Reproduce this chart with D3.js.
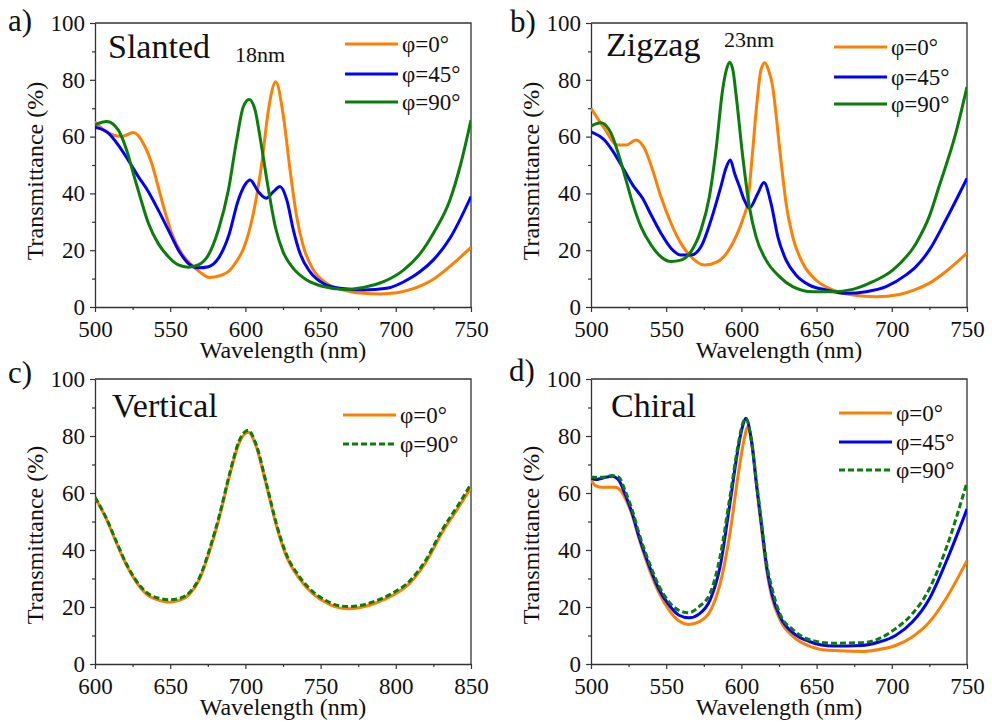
<!DOCTYPE html>
<html><head><meta charset="utf-8">
<script src="https://cdn.jsdelivr.net/npm/d3@7"></script>
<style>
body{margin:0;background:#fff}
svg{display:block}
svg text{font-family:"Liberation Serif", serif;}
</style>
</head><body>
<svg id="chart" width="992" height="724"></svg>
<script>
// ---------- DATA ----------
const xTicksA = [500, 550, 600, 650, 700, 750];
const xTicksC = [600, 650, 700, 750, 800, 850];
const yTicks = [0, 20, 40, 60, 80, 100];
const legend3 = ["φ=0°", "φ=45°", "φ=90°"];
const legend2 = ["φ=0°", "φ=90°"];

// (a) Slanted
const slantedWl0 = [500,508.9,517.7,525.5,533.2,537.7,542,546.5,551,557.6,564.3,570,576,583,589.8,594,598.7,605.3,610.9,615.3,620.2,625.3,629.7,634.1,638.6,645.2,654.1,665.2,678.5,690,700.6,710,718,725,736,750];
const slantedT0  = [65.2,61.2,60,61.4,56.5,50.6,42.4,33.6,26,18.9,14.8,12.2,10.4,11,13,16,20.5,33,50.6,69.4,79.3,67,48.2,31.8,21.2,13,8.3,6,4.8,4.6,5,6.2,7.8,9.8,14.3,21];
const slantedWl45 = [500,508.9,515.5,522,528.8,535.5,542,548.8,555.4,562,568.7,575.4,582,588.7,595.3,599.7,603.1,608.6,613.7,618.6,623,627.5,631.9,636.3,643,651.9,663,678.5,694,709.5,716,725,736,750];
const slantedT45  = [63.3,61.2,57,51.8,45.9,40.6,34.2,27.1,20.1,15.4,13.8,14.2,17.1,24.8,37.7,43,44.7,40.6,38.3,40.6,42.4,37.7,27.1,18.9,12.4,8.3,6.6,6,6.6,10.1,12.4,16.6,24.2,38.9];
const slantedWl90 = [500,507.8,515.5,521,525.5,530,535.5,542,548.8,555.4,562,568.7,575.4,582,588.7,594.2,598.6,602.5,606.4,610,614.5,620,625,632,640.8,651.9,665.2,678.5,691.8,705.1,716.3,725,736,743,750];
const slantedT90  = [64.1,65.3,62.3,55.3,47,38.8,29.5,22.4,17.7,14.8,14,14.8,18.3,27.1,41.2,58.8,70.5,73.1,69.4,59,44,28,19.5,13.5,9.5,7.2,6.2,6.9,8.9,13,18.9,26,37.7,50,65.8];

// (b) Zigzag
const zigzagWl0 = [500,508.9,517.7,523.3,529.9,535.5,541,546.5,553.2,559.8,566.5,575.4,584.2,590.9,597,601,604.5,607,610,613,615.6,618,620.8,623,625.3,627.5,629.7,634.1,640.8,649.6,660.7,674,689.5,705,716,725,736,750];
const zigzagT0  = [70,62.9,57,57,58.8,55.9,48.2,38.8,29.5,22.4,17.7,14.8,16,19.5,25.5,31,38,52,70,83.5,86,83.5,77.6,68,56.4,46,36.5,24.8,15.4,9.5,6,4.2,3.6,4.4,6.2,8.4,12.5,19];
const zigzagWl45 = [500,508.9,515.5,522,527.7,534.3,540,546.5,553.2,559.8,566.5,573.1,579.8,586.4,589.8,592.6,595.5,598.7,601.9,605.3,610.9,615,619.7,624.2,629.7,636.3,645.2,656.3,669.6,682.9,696.2,709.5,716.1,725,736,750];
const zigzagT45  = [61.7,58.8,54.1,48.2,43,38.3,32.4,26,20.7,18.3,18.3,21.2,30.6,42.5,49,51.8,47,42.4,37.7,34.8,40,43.8,36.5,24.8,16.5,11.3,7.7,6,4.8,5.4,7.2,11.3,14.2,20.1,30.7,45.3];
const zigzagWl90 = [500,506.6,513.3,518.8,523.3,527.7,533.2,540,546.5,553.2,559.8,566.5,573.1,578.7,583.1,587.5,590,592.2,594.5,596.4,600.9,605.3,609.7,616.4,625.3,634.1,647.4,660.7,674,687.3,700.6,716.1,725,731.4,742.5,750];
const zigzagT90  = [63.7,64.9,61.2,52.9,44.7,36.5,28.3,21.8,17.7,16,16.5,19.5,27.1,38.8,55.3,76.4,83.5,86.2,83,75,52.9,35.3,24.8,16.5,10.7,7.2,5.4,5.4,6.2,8.9,13,22.4,32,42.4,61.1,77.5];

// (c) Vertical
const verticalWl = [600,607.5,614,621,627.5,634,643,649.6,656,663,669.6,676,683,689.5,696,702,707,714,720.6,727,736,745,753.8,762.6,769,778,787,798,809,820,831,842.5,850];
const verticalT0  = [58.5,50.9,42.8,34.6,28.7,24.6,22.3,21.7,22.3,24.6,29.9,39.3,52.1,66.1,77.8,81.3,76.6,62.6,48.6,38.1,29.9,24.6,21.5,19.7,19.4,20,21.5,24.1,28.2,35.7,46.3,55.6,62];
const verticalT90 = [58.5,51.2,43.2,35,29.2,25.2,23,22.5,23,25.2,30.5,40,52.8,66.8,78.5,82,77.2,63.2,49.2,38.8,30.6,25.3,22.2,20.4,20.2,20.7,22.2,24.9,29,36.5,47.2,56.6,63.2];

// (d) Chiral
const chiralWl0 = [500,503,507.5,516.4,519.7,523,527.5,532,538.6,545,552,558.5,565,572.5,579.2,585.8,592.4,598,601.5,604.4,607,610.2,613.5,616.8,620.2,625.7,634.6,645.6,658,680,691.5,702.5,713.6,725,736,750];
const chiralT0  = [64.4,62.6,62,62,60.9,57.9,52.1,43.9,33.4,25.2,18.8,15.1,13.9,15,18.5,28,45.9,66.9,78,83.3,78,62,47,33,23.5,15.5,9.5,6.2,4.8,4.4,5.1,6.5,9.5,14.7,22.9,36.3];
const chiralWl45 = [500,503,507.5,514,518.6,523,527.5,532,538.6,545,552,558.5,565,572,579.2,585.8,592.4,598,600.6,602.9,606.9,610.2,613.5,616.8,620.2,625.7,634.6,645.6,661,680,691.5,702.5,713.6,725,736,750];
const chiralT45  = [65.5,64.7,65.2,65.9,64.4,59.1,52.7,44.5,34.6,26.4,20.6,17.1,16.2,17.6,22.5,34.1,56.4,76.2,83,86.2,77.4,62.2,48.2,34.1,24.8,16.6,10.8,7.8,6.3,6.5,7.7,10,14.7,22.9,35.7,54.4];
const chiralWl90 = [500,507.5,514,518.6,523,527.5,532,538.6,545,552,558.5,565,572,579.2,585.8,592.4,598,600.6,603,606.9,610.2,613.5,616.8,620.6,625.7,634.6,645.6,661,680,691.5,702.5,713.6,725,736,750];
const chiralT90  = [65.5,65.5,66.1,65.5,60.3,53.9,45.7,35.7,27.6,21.7,18.8,18,20.2,24.8,37.6,58.7,77.4,84,86.2,77.4,63.4,49,35.3,26,17.5,11.9,8.5,7.3,7.5,8.9,12.4,17.6,26.4,40.4,63.8];

// ---------- STYLE / LAYOUT ----------
const C_OR = "#ff8000", C_BL = "#0000ff", C_GR = "#0a7d0a";
const FONT = "Liberation Serif";
const zip = (xs, ys) => xs.map((x, i) => ({x, y: ys[i]}));

const panels = [
  {L:95, R:471, T:23, B:307, dom:[500,750], xt:xTicksA, tag:"a)", tagX:8, tagY:31,
   title:"Slanted", tX:108, tY:58, sub:"18nm", sX:235, sY:62,
   legX:345, legY:[44,74,102], labels:legend3, ytY:171,
   series:[{d:zip(slantedWl0,slantedT0),c:C_OR},{d:zip(slantedWl45,slantedT45),c:C_BL},{d:zip(slantedWl90,slantedT90),c:C_GR}],
   leg:[{c:C_OR},{c:C_BL},{c:C_GR}]},
  {L:591, R:967, T:23, B:307, dom:[500,750], xt:xTicksA, tag:"b)", tagX:510, tagY:32,
   title:"Zigzag", tX:606, tY:56, sub:"23nm", sX:724, sY:47,
   legX:834, legY:[47,77,104], labels:legend3, ytY:171,
   series:[{d:zip(zigzagWl0,zigzagT0),c:C_OR},{d:zip(zigzagWl45,zigzagT45),c:C_BL},{d:zip(zigzagWl90,zigzagT90),c:C_GR}],
   leg:[{c:C_OR},{c:C_BL},{c:C_GR}]},
  {L:95, R:471, T:379, B:664, dom:[600,850], xt:xTicksC, tag:"c)", tagX:8, tagY:383,
   title:"Vertical", tX:112, tY:417, sub:null,
   legX:343, legY:[415,444], labels:legend2, ytY:535,
   series:[{d:zip(verticalWl,verticalT0),c:C_OR},{d:zip(verticalWl,verticalT90),c:C_GR,dash:"6,3"}],
   leg:[{c:C_OR},{c:C_GR,dash:"6,3"}]},
  {L:591, R:967, T:379, B:664, dom:[500,750], xt:xTicksA, tag:"d)", tagX:509, tagY:381,
   title:"Chiral", tX:611, tY:417, sub:null,
   legX:839, legY:[413,442,470], labels:legend3, ytY:535,
   series:[{d:zip(chiralWl0,chiralT0),c:C_OR},{d:zip(chiralWl45,chiralT45),c:C_BL},{d:zip(chiralWl90,chiralT90),c:C_GR,dash:"6,3"}],
   leg:[{c:C_OR},{c:C_BL},{c:C_GR,dash:"6,3"}]}
];

const svg = d3.select("#chart");

function txt(sel) { return sel.attr("font-family", FONT).attr("fill", "#111"); }

panels.forEach(p => {
  const x = d3.scaleLinear().domain(p.dom).range([p.L, p.R]);
  const y = d3.scaleLinear().domain([0, 100]).range([p.B, p.T]);
  const g = svg.append("g").attr("font-family", FONT);

  const clipId = "clip" + p.tag[0];
  g.append("clipPath").attr("id", clipId).append("rect")
    .attr("x", p.L).attr("y", p.T - 5).attr("width", p.R - p.L).attr("height", p.B - p.T + 5);

  // minor ticks
  const xMinor = d3.range(p.dom[0], p.dom[1] + 1, 25).filter(v => !p.xt.includes(v));
  g.append("g").attr("transform", `translate(0,${p.B})`)
    .call(d3.axisBottom(x).tickValues(xMinor).tickSize(3).tickFormat(""))
    .call(a => a.select(".domain").remove())
    .call(a => a.selectAll("line").attr("stroke", "#333").attr("stroke-width", 1.2));
  g.append("g").attr("transform", `translate(${p.L},0)`)
    .call(d3.axisLeft(y).tickValues([10,30,50,70,90]).tickSize(3).tickFormat(""))
    .call(a => a.select(".domain").remove())
    .call(a => a.selectAll("line").attr("stroke", "#333").attr("stroke-width", 1.2));

  // major axes
  const xa = g.append("g").attr("transform", `translate(0,${p.B})`)
    .call(d3.axisBottom(x).tickValues(p.xt).tickSize(5).tickSizeOuter(0));
  xa.attr("font-family", FONT);
  xa.selectAll("text").attr("y", 30).attr("dy", null).attr("font-size", 23).call(txt);
  const ya = g.append("g").attr("transform", `translate(${p.L},0)`)
    .call(d3.axisLeft(y).tickValues(yTicks).tickSize(5).tickPadding(5).tickSizeOuter(0));
  ya.attr("font-family", FONT);
  ya.selectAll("text").attr("font-size", 23).call(txt);
  [xa, ya].forEach(a => {
    a.select(".domain").attr("stroke", "#333").attr("stroke-width", 1.3);
    a.selectAll("line").attr("stroke", "#333").attr("stroke-width", 1.2);
  });

  // frame top/right
  g.append("path").attr("d", `M${p.L},${p.T}H${p.R}V${p.B}`)
    .attr("fill", "none").attr("stroke", "#333").attr("stroke-width", 1.3);

  // curves
  const line = d3.line().x(d => x(d.x)).y(d => y(d.y)).curve(d3.curveMonotoneX);
  p.series.forEach(s => {
    g.append("path").datum(s.d).attr("d", line)
      .attr("clip-path", `url(#${clipId})`)
      .attr("fill", "none").attr("stroke", s.c).attr("stroke-width", 3)
      .attr("stroke-dasharray", s.dash || null)
      .attr("stroke-linejoin", "round");
  });

  // axis titles
  g.append("text").attr("x", (p.L + p.R) / 2).attr("y", p.B + 51)
    .attr("text-anchor", "middle").attr("font-size", 24).call(txt)
    .text("Wavelength (nm)");
  g.append("text").attr("dy", "0.35em")
    .attr("transform", `translate(${p.L - 60},${p.ytY}) rotate(-90)`)
    .attr("text-anchor", "middle").attr("font-size", 24).call(txt)
    .text("Transmittance (%)");

  // panel tag & titles
  g.append("text").attr("x", p.tagX).attr("y", p.tagY).attr("font-size", 31).call(txt).text(p.tag);
  g.append("text").attr("x", p.tX).attr("y", p.tY).attr("font-size", 34).call(txt).text(p.title);
  if (p.sub) g.append("text").attr("x", p.sX).attr("y", p.sY).attr("font-size", 22).call(txt).text(p.sub);

  // legend
  p.labels.forEach((lab, i) => {
    const ly = p.legY[i];
    g.append("line").attr("x1", p.legX).attr("x2", p.legX + 53).attr("y1", ly).attr("y2", ly)
      .attr("stroke", p.leg[i].c).attr("stroke-width", 3).attr("stroke-dasharray", p.leg[i].dash || null);
    g.append("text").attr("x", p.legX + 57).attr("y", ly + 8).attr("font-size", 23).call(txt).text(lab);
  });
});
</script>
</body></html>
